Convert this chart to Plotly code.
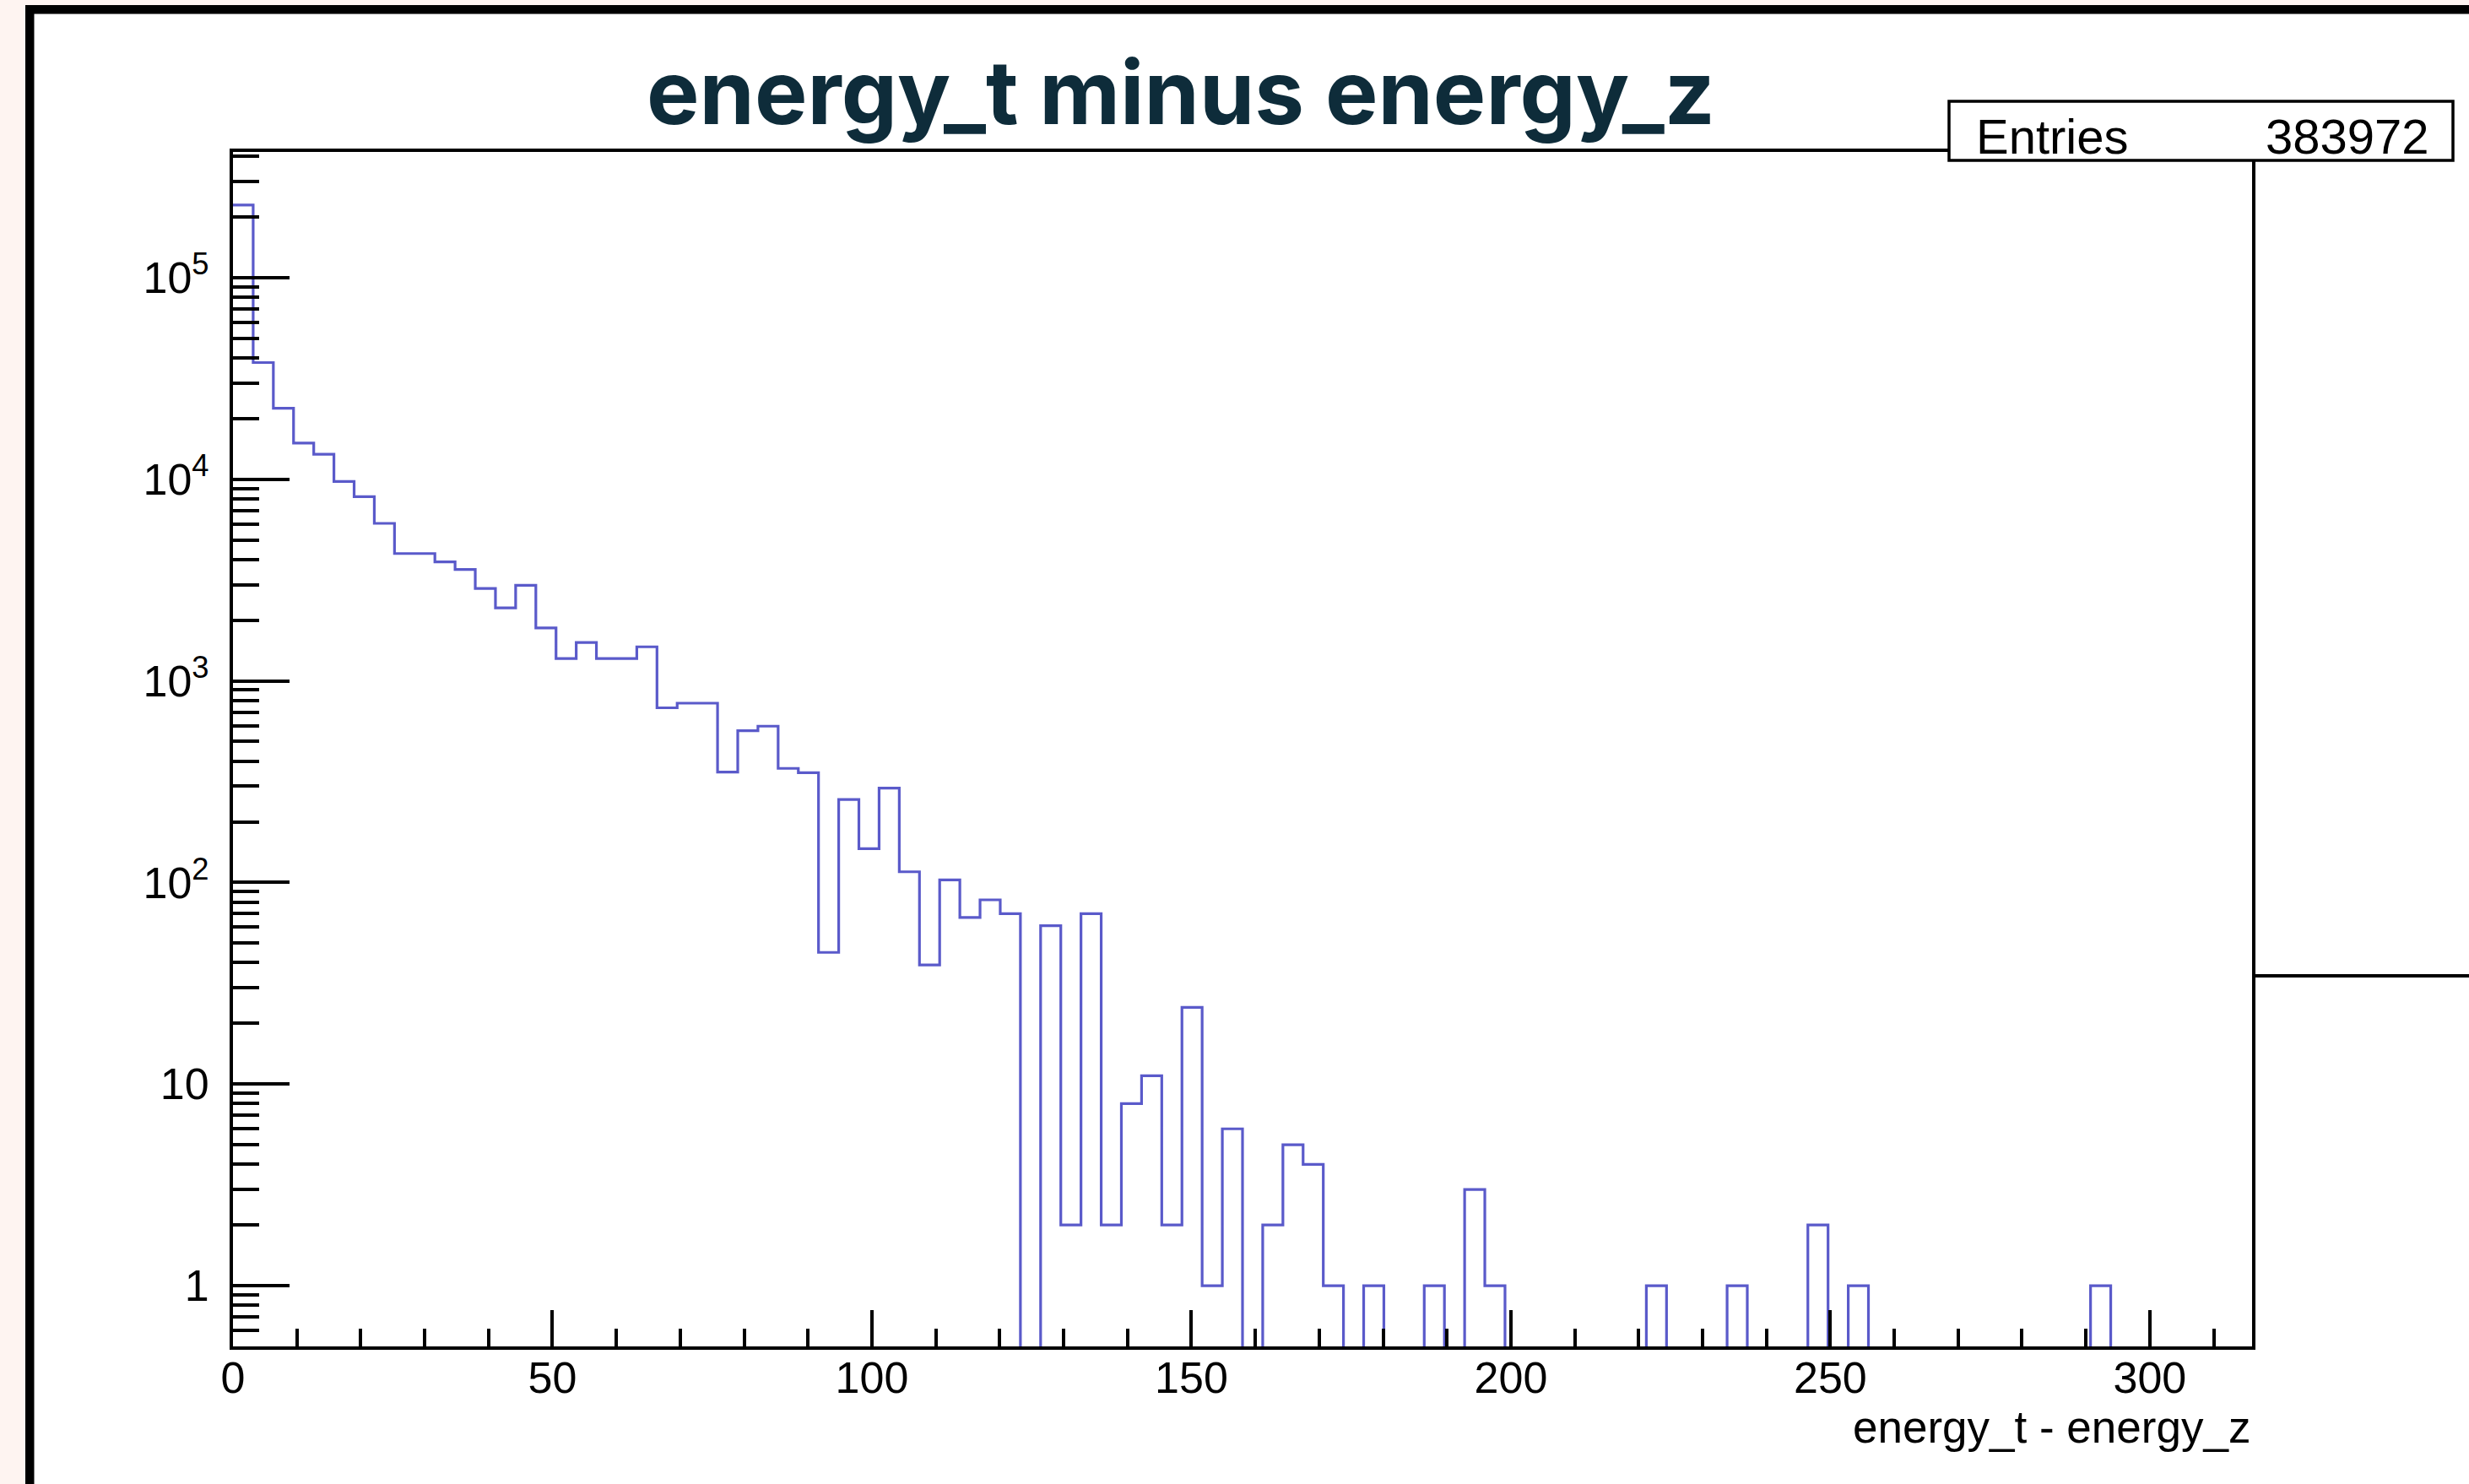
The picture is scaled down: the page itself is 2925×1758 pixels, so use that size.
import numpy as np
import plotly.graph_objects as go

# ---------------- data ----------------
x_min, x_max, n_bins = 0.0, 316.0, 100
counts = [
    229000, 37900, 22500, 15100, 13300, 9750, 8200, 6040, 4280, 4280,
    3890, 3570, 2870, 2300, 2980, 1830, 1290, 1550, 1290, 1290,
    1475, 735, 775, 775, 353, 566, 596, 368, 350, 45,
    258, 147, 294, 113, 39, 103, 67, 82, 70, 0,
    61, 2, 70, 2, 8, 11, 2, 24, 1, 6,
    0, 2, 5, 4, 1, 0, 1, 0, 0, 1,
    0, 3, 1, 0, 0, 0, 0, 0, 0, 0,
    1, 0, 0, 0, 1, 0, 0, 0, 2, 0,
    1, 0, 0, 0, 0, 0, 0, 0, 0, 0,
    0, 0, 1, 0, 0, 0, 0, 0, 0, 0,
]
entries = 383972
title_text = "energy_t minus energy_z"
x_title = "energy_t - energy_z"
x_tickvals = [0, 50, 100, 150, 200, 250, 300]
y_tickvals = [1, 10, 100, 1000, 10000, 100000]
y_ticktext = ["1", "10", "10<sup>2</sup>", "10<sup>3</sup>", "10<sup>4</sup>", "10<sup>5</sup>"]
y_range = [0.5, 4.2e5]

# ---------------- geometry helpers (layout only) ----------------
W, H = 2925, 1758
L, R, T, B = 276, 2668, 180, 1595
PINK = "#FEF4F1"


def px(x):
    return (x - L) / (R - L)


def py(y):
    return (B - y) / (B - T)


edges = np.linspace(x_min, x_max, n_bins + 1)
c = np.array(counts, dtype=float)
floor = y_range[0] / 10.0
y_plot = np.where(c > 0, c, floor)
y_step = np.append(y_plot, y_plot[-1])

minor_y = [m * 10 ** d for d in range(-1, 6) for m in range(2, 10)
           if y_range[0] <= m * 10 ** d <= y_range[1]]

fig = go.Figure()
fig.add_trace(go.Scatter(
    x=edges, y=y_step, mode="lines", line_shape="hv",
    line=dict(color="rgb(90,90,202)", width=3.2),
    hoverinfo="skip", showlegend=False,
))

tick_font = dict(family="Liberation Sans, Arial, sans-serif", size=52, color="black")

fig.update_layout(
    width=W, height=H,
    margin=dict(l=L, r=W - R, t=T, b=H - B, pad=0),
    paper_bgcolor=PINK,
    plot_bgcolor="white",
    showlegend=False,
    title=dict(
        text=title_text,
        x=1399 / W, xref="container", xanchor="center",
        y=1 - 110 / H, yref="container", yanchor="middle",
        font=dict(family="Inter, Lato, sans-serif", size=105, color="#0E2C3A", weight=700),
    ),
    xaxis=dict(
        range=[x_min, x_max], showgrid=False, zeroline=False,
        showline=True, linecolor="black", linewidth=4, mirror=True,
        ticks="inside", ticklen=43, tickwidth=3.5, tickcolor="black",
        tickmode="array", tickvals=x_tickvals,
        tickfont=tick_font, ticklabelstandoff=-11,
        minor=dict(ticks="inside", ticklen=21, tickwidth=3.5, tickcolor="black",
                   dtick=10, tick0=0, showgrid=False),
        automargin=False,
    ),
    yaxis=dict(
        type="log", range=[np.log10(y_range[0]), np.log10(y_range[1])],
        showgrid=False, zeroline=False,
        showline=True, linecolor="black", linewidth=4, mirror=True,
        ticks="inside", ticklen=67, tickwidth=3.5, tickcolor="black",
        tickmode="array", tickvals=y_tickvals, ticktext=y_ticktext,
        tickfont=tick_font, ticklabelstandoff=14,
        minor=dict(ticks="inside", ticklen=31, tickwidth=3.5, tickcolor="black",
                   tickmode="array", tickvals=minor_y, showgrid=False),
        automargin=False,
    ),
)

shapes = [
    # outer black frame and white page
    dict(type="rect", xref="paper", yref="paper", layer="below",
         x0=px(30), x1=px(W + 20), y0=py(H + 20), y1=py(6),
         fillcolor="black", line=dict(width=0)),
    dict(type="rect", xref="paper", yref="paper", layer="below",
         x0=px(40.5), x1=px(W + 20), y0=py(H + 20), y1=py(16.5),
         fillcolor="white", line=dict(width=0)),
    # horizontal line at the right of the pad
    dict(type="line", xref="paper", yref="paper", layer="above",
         x0=px(R), x1=px(W + 20), y0=py(1156), y1=py(1156),
         line=dict(color="black", width=4)),
    # stats box
    dict(type="rect", xref="paper", yref="paper", layer="above",
         x0=px(2309), x1=px(2906), y0=py(190), y1=py(120),
         fillcolor="white", line=dict(color="black", width=3.5)),
]
fig.update_layout(shapes=shapes)

stats_font = dict(family="Liberation Sans, Arial, sans-serif", size=58, color="black")
fig.add_annotation(text="Entries", xref="paper", yref="paper",
                   x=px(2339), y=py(161), xanchor="left", yanchor="middle",
                   showarrow=False, font=stats_font)
fig.add_annotation(text=str(entries), xref="paper", yref="paper",
                   x=px(2880), y=py(161), xanchor="right", yanchor="middle",
                   showarrow=False, font=stats_font)
fig.add_annotation(text=x_title, xref="paper", yref="paper",
                   x=1.0, y=py(1690), xanchor="right", yanchor="middle",
                   showarrow=False,
                   font=dict(family="Liberation Sans, Arial, sans-serif", size=53, color="black"))

post = (
    "document.body.style.margin='0';"
    "document.body.style.padding='0';"
    "document.body.style.overflow='hidden';"
    "document.documentElement.style.overflow='hidden';"
    "document.body.style.background='" + PINK + "';"
)
fig.write_html("out.html", post_script=post, config={"displayModeBar": False})
